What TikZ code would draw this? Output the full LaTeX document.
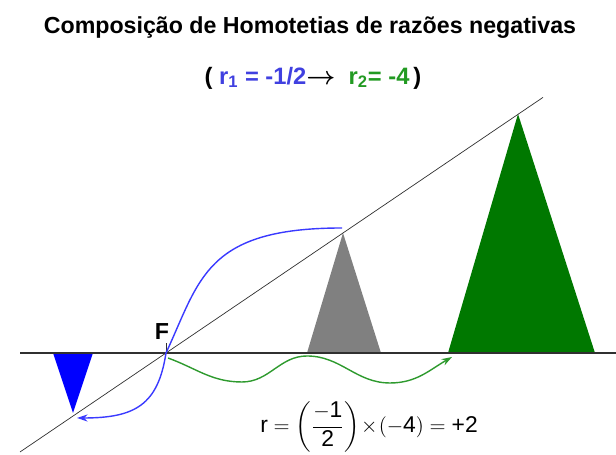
\documentclass[tikz,border=0pt]{standalone}
\usepackage{amsmath}
\usepackage{fontspec}
\setmainfont{Liberation Sans}
\usetikzlibrary{arrows.meta}
\definecolor{HomBlue}{HTML}{0000FF}
\definecolor{HomGreen}{HTML}{007800}
\definecolor{HomGray}{HTML}{808080}
\definecolor{ArcBlue}{HTML}{3A3AFF}
\definecolor{ArcGreen}{HTML}{2E9A2E}
\definecolor{RatioBlue}{HTML}{4040E0}
\definecolor{RatioGreen}{HTML}{229A22}
\definecolor{AxisGray}{HTML}{303030}
\newcommand{\sfnum}[1]{\text{#1}}

\begin{document}
\begin{tikzpicture}[x=0.02cm,y=0.02cm]
  \useasboundingbox (0,0) rectangle (616,455);
  % --- heading ---
  \node[font=\fontsize{13.2}{15}\selectfont\bfseries] (title) at (310,427)
    {Composição de Homotetias de razões negativas};
  \node[font=\fontsize{13.5}{15}\selectfont\bfseries] (ratios) at (313,377)
    {(\ \textcolor{RatioBlue}{r$_{\sfnum{1}}$ = -1/2}$\boldsymbol{\rightarrow}$\ \ \textcolor{RatioGreen}{r$_{\sfnum{2}}$= -4}\,)};

  % --- triangles ---
  \fill[HomGray]  (307,102) -- (343,222) -- (381,102) -- cycle;
  \fill[HomGreen] (448,102) -- (518,341) -- (595,102) -- cycle;
  \fill[HomBlue]  (53,102) -- (73,42) -- (93,102) -- cycle;

  % --- axis and line through F ---
  \coordinate (F) at (166,102);
  \draw[AxisGray,thick] (20,102) -- (616,102);
  \draw[AxisGray] (20,3) -- (543,357.6);
  \draw[AxisGray] (F) -- ++(0,10);
  \node[font=\fontsize{13.2}{15}\selectfont\bfseries,anchor=base] (Flabel) at (162,115) {F};

  % --- arcs of the two homotheties ---
  \coordinate (grayTop) at (342,227);
  \coordinate (blueTip) at (77,37);
  \coordinate (greenStart) at (168,97);
  \coordinate (greenTip) at (452,98);
  \draw[ArcBlue,thick,-{Stealth[length=6pt,width=4pt,inset=2pt]}]
    (grayTop) .. controls (205,227) and (200,175) .. (F)
              .. controls (158,50) and (135,37) .. (blueTip);
  \draw[ArcGreen,thick,-{Stealth[length=6pt,width=4pt,inset=2pt]}]
    (greenStart) to[out=-20,in=180] (242,73) to[out=0,in=180] (307,99)
                 to[out=0,in=180] (390,72) to[out=0,in=210] (greenTip);

  % --- product of the ratios ---
  \node[font=\fontsize{13}{16}\selectfont] (product) at (369,28)
    {$\sfnum{r}=\left(\dfrac{-\sfnum{1}}{\sfnum{2}}\right)\!\times\!(-\sfnum{4})=\sfnum{+2}$};
\end{tikzpicture}
\end{document}
